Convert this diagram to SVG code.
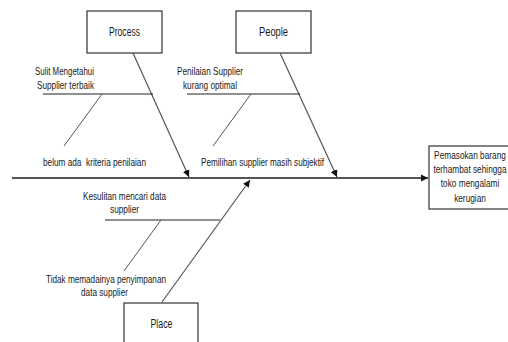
<svg xmlns="http://www.w3.org/2000/svg" width="508" height="342" viewBox="0 0 508 342">
<defs>
<style>
text{font-family:"Liberation Sans",Arial,sans-serif;fill:#1a1a1a;}
.lbl{font-size:11px;}
.box{fill:#fff;stroke:#333;stroke-width:1.2;}
.bl{font-size:12px;text-anchor:middle;}
.el{font-size:11.5px;text-anchor:middle;}
.arr{stroke:#555;stroke-width:1.2;fill:none;marker-end:url(#ah);}
.sub{stroke:#222;stroke-width:1.1;fill:none;}
.diag{stroke:#555;stroke-width:1;fill:none;}
</style>
<marker id="ah" markerWidth="8" markerHeight="8" refX="7" refY="4" orient="auto" markerUnits="userSpaceOnUse">
<path d="M0,0.5 L7,4 L0,7.5 Z" fill="#111"/>
</marker>
</defs>
<rect width="508" height="342" fill="#fff"/>
<g id="connectors">
<line x1="12" y1="178" x2="428" y2="178" stroke="#555" stroke-width="2" marker-end="url(#ah)"/>
<line class="arr" x1="133" y1="53" x2="189" y2="177"/>
<line class="arr" x1="280" y1="53" x2="337" y2="177"/>
<line class="arr" x1="162" y1="302" x2="250" y2="180"/>
<line class="sub" x1="43" y1="94" x2="153" y2="94"/>
<line class="diag" x1="102" y1="94" x2="64" y2="146"/>
<line class="sub" x1="187" y1="94" x2="300" y2="94"/>
<line class="diag" x1="251" y1="94" x2="213" y2="146"/>
<line class="sub" x1="105" y1="220" x2="220" y2="220"/>
<line class="diag" x1="161" y1="220" x2="124" y2="271"/>
</g>
<g id="process">
<rect class="box" x="87" y="11" width="75" height="42"/>
<text class="bl" x="124.5" y="36" textLength="31" lengthAdjust="spacingAndGlyphs">Process</text>
</g>
<g id="people">
<rect class="box" x="236" y="11" width="75" height="42"/>
<text class="bl" x="273.5" y="36" textLength="29" lengthAdjust="spacingAndGlyphs">People</text>
</g>
<g id="place">
<rect class="box" x="124" y="303" width="74" height="45"/>
<text class="bl" x="161.5" y="328" textLength="22" lengthAdjust="spacingAndGlyphs">Place</text>
</g>
<g id="effect">
<rect class="box" x="429" y="146" width="85" height="63"/>
<g transform="translate(470,0) scale(0.72,1)">
<text class="el" x="0" y="159">Pemasokan barang</text>
<text class="el" x="0" y="173">terhambat sehingga</text>
<text class="el" x="0" y="187">toko mengalami</text>
<text class="el" x="0" y="202">kerugian</text>
</g>
</g>
<g id="cause-process">
<text class="lbl" x="35" y="75" textLength="59" lengthAdjust="spacingAndGlyphs">Sulit Mengetahui</text>
<text class="lbl" x="37" y="89" textLength="57" lengthAdjust="spacingAndGlyphs">Supplier terbaik</text>
<text class="lbl" x="43" y="166" textLength="103" lengthAdjust="spacingAndGlyphs" xml:space="preserve">belum ada  kriteria penilaian</text>
</g>
<g id="cause-people">
<text class="lbl" x="177" y="75" textLength="66" lengthAdjust="spacingAndGlyphs">Penilaian Supplier</text>
<text class="lbl" x="183" y="89" textLength="54" lengthAdjust="spacingAndGlyphs">kurang optimal</text>
<text class="lbl" x="201" y="166" textLength="123" lengthAdjust="spacingAndGlyphs">Pemilihan supplier masih subjektif</text>
</g>
<g id="cause-place">
<text class="lbl" x="83" y="200" textLength="83" lengthAdjust="spacingAndGlyphs">Kesulitan mencari data</text>
<text class="lbl" x="110" y="213" textLength="29" lengthAdjust="spacingAndGlyphs">supplier</text>
<text class="lbl" x="46" y="283" textLength="120" lengthAdjust="spacingAndGlyphs">Tidak memadainya penyimpanan</text>
<text class="lbl" x="81" y="296" textLength="47" lengthAdjust="spacingAndGlyphs">data supplier</text>
</g>
</svg>
